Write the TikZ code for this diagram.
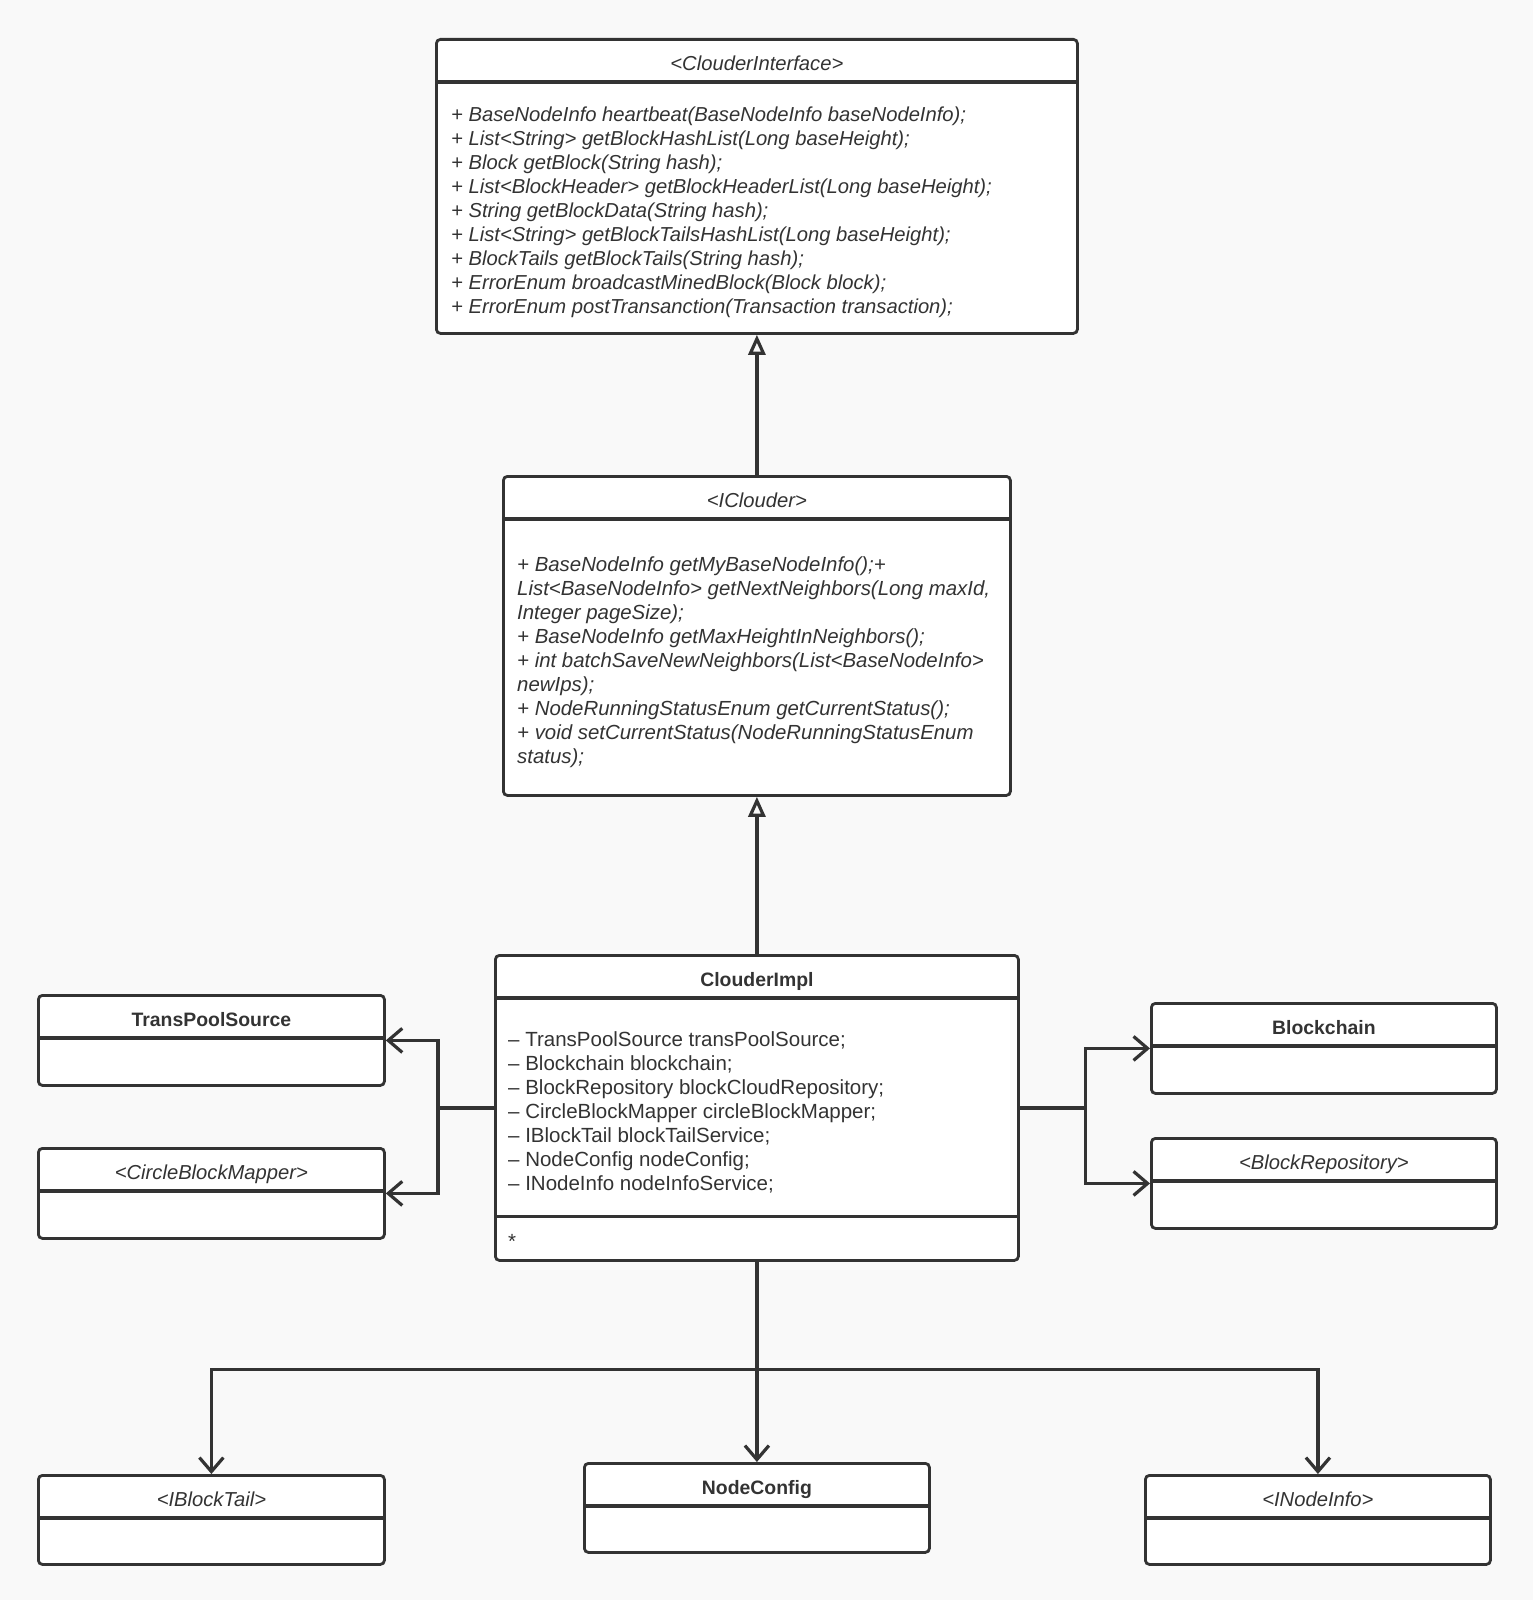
\documentclass[tikz,border=0pt]{standalone}
\usepackage{fontspec}
\setmainfont{Liberation Sans}
\usetikzlibrary{arrows.meta,calc}

\definecolor{umlline}{HTML}{333333}
\definecolor{umlbg}{HTML}{F9F9F9}

\tikzset{
  classbox/.style={draw=umlline, fill=white, line width=2.8pt, rounded corners=4pt, anchor=north west, inner sep=0pt},
  classname/.style={anchor=base, text=umlline, font=\fontsize{19.4}{24}\selectfont\bfseries},
  ifacename/.style={anchor=base, text=umlline, font=\fontsize{20.2}{24}\selectfont\itshape},
  members/.style={anchor=north west, align=left, inner sep=0pt, text=umlline, font=\fontsize{20.5}{24}\selectfont},
  divider/.style={draw=umlline, line width=3.2pt},
  link/.style={draw=umlline, line width=3.2pt},
  inherit/.style={link, -{Triangle[open, length=20pt, width=17pt]}},
  assoc/.style={link, -{Straight Barb[length=14pt, width=24pt]}},
}

\begin{document}
\begin{tikzpicture}[x=1pt, y=-1pt]

\fill[umlbg] (0,0) rectangle (1533,1600);
\useasboundingbox (0,0) rectangle (1533,1600);

% class boxes
\node[classbox, minimum width=641, minimum height=294] (ci) at (435,38) {};
\node[classbox, minimum width=507, minimum height=319] (icl) at (502,475) {};
\node[classbox, minimum width=523, minimum height=305] (impl) at (494,954) {};
\node[classbox, minimum width=346, minimum height=90] (tps) at (37,994) {};
\node[classbox, minimum width=346, minimum height=90] (cbm) at (37,1147) {};
\node[classbox, minimum width=345, minimum height=90] (bc) at (1150,1002) {};
\node[classbox, minimum width=345, minimum height=90] (br) at (1150,1137) {};
\node[classbox, minimum width=346, minimum height=89] (ibt) at (37,1474) {};
\node[classbox, minimum width=345, minimum height=89] (nc) at (583,1462) {};
\node[classbox, minimum width=345, minimum height=89] (ini) at (1144,1474) {};

\foreach \b in {ci,icl,impl,tps,cbm,bc,br,ibt,nc,ini}
  \draw[divider] ($(\b.north west)+(0,44)$) -- ($(\b.north east)+(0,44)$);
\draw[divider] ($(impl.south west)+(0,-45)$) -- ($(impl.south east)+(0,-45)$);

% names
\node[ifacename] (ci-t) at ($(ci.north)+(0,32.5)$) {<ClouderInterface>};
\node[ifacename] (icl-t) at ($(icl.north)+(0,32)$) {<IClouder>};
\node[classname] (impl-t) at ($(impl.north)+(0,32)$) {ClouderImpl};
\node[classname] (tps-t) at ($(tps.north)+(0,32.5)$) {TransPoolSource};
\node[ifacename] (cbm-t) at ($(cbm.north)+(0,32.5)$) {<CircleBlockMapper>};
\node[classname] (bc-t) at ($(bc.north)+(0,32)$) {Blockchain};
\node[ifacename] (br-t) at ($(br.north)+(0,32)$) {<BlockRepository>};
\node[ifacename] (ibt-t) at ($(ibt.north)+(0,32)$) {<IBlockTail>};
\node[classname] (nc-t) at ($(nc.north)+(0,32)$) {NodeConfig};
\node[ifacename] (ini-t) at ($(ini.north)+(0,32)$) {<INodeInfo>};

% members
\node[members, font=\fontsize{20.2}{24}\selectfont\itshape] (ci-m) at ($(ci.north west)+(16,68.5)$) {%
+ BaseNodeInfo heartbeat(BaseNodeInfo baseNodeInfo);\\
+ List<String> getBlockHashList(Long baseHeight);\\
+ Block getBlock(String hash);\\
+ List<BlockHeader> getBlockHeaderList(Long baseHeight);\\
+ String getBlockData(String hash);\\
+ List<String> getBlockTailsHashList(Long baseHeight);\\
+ BlockTails getBlockTails(String hash);\\
+ ErrorEnum broadcastMinedBlock(Block block);\\
+ ErrorEnum postTransanction(Transaction transaction);};

\node[members, font=\fontsize{20.4}{24}\selectfont\itshape] (icl-m) at ($(icl.north west)+(15,82)$) {%
+ BaseNodeInfo getMyBaseNodeInfo();+\\
List<BaseNodeInfo> getNextNeighbors(Long maxId,\\
Integer pageSize);\\
+ BaseNodeInfo getMaxHeightInNeighbors();\\
+ int batchSaveNewNeighbors(List<BaseNodeInfo>\\
newIps);\\
+ NodeRunningStatusEnum getCurrentStatus();\\
+ void setCurrentStatus(NodeRunningStatusEnum\\
status);};

\node[members] (impl-m) at ($(impl.north west)+(14,77)$) {%
– TransPoolSource transPoolSource;\\
– Blockchain blockchain;\\
– BlockRepository blockCloudRepository;\\
– CircleBlockMapper circleBlockMapper;\\
– IBlockTail blockTailService;\\
– NodeConfig nodeConfig;\\
– INodeInfo nodeInfoService;};
\node[members, anchor=base west] (impl-o) at ($(impl.south west)+(14,-13)$) {*};

% realization
\draw[inherit] (icl.north) -- (icl.north |- ci.south);
\draw[inherit] (impl.north) -- (impl.north |- icl.south);

% associations
\coordinate (jl) at ($(impl.west)+(-56,0)$);
\coordinate (jr) at ($(impl.east)+(66,0)$);
\coordinate (jb) at ($(impl.south)+(0,108)$);

\draw[link] (impl.west) -- (jl);
\draw[assoc] (jl) |- (tps.east);
\draw[assoc] (jl) |- (cbm.east);

\draw[link] (impl.east) -- (jr);
\draw[assoc] (jr) |- (bc.west);
\draw[assoc] (jr) |- (br.west);

\draw[link] (impl.south) -- (jb);
\draw[assoc] (jb) -| (ibt.north);
\draw[assoc] (jb) -- (nc.north);
\draw[assoc] (jb) -| (ini.north);

\end{tikzpicture}
\end{document}
